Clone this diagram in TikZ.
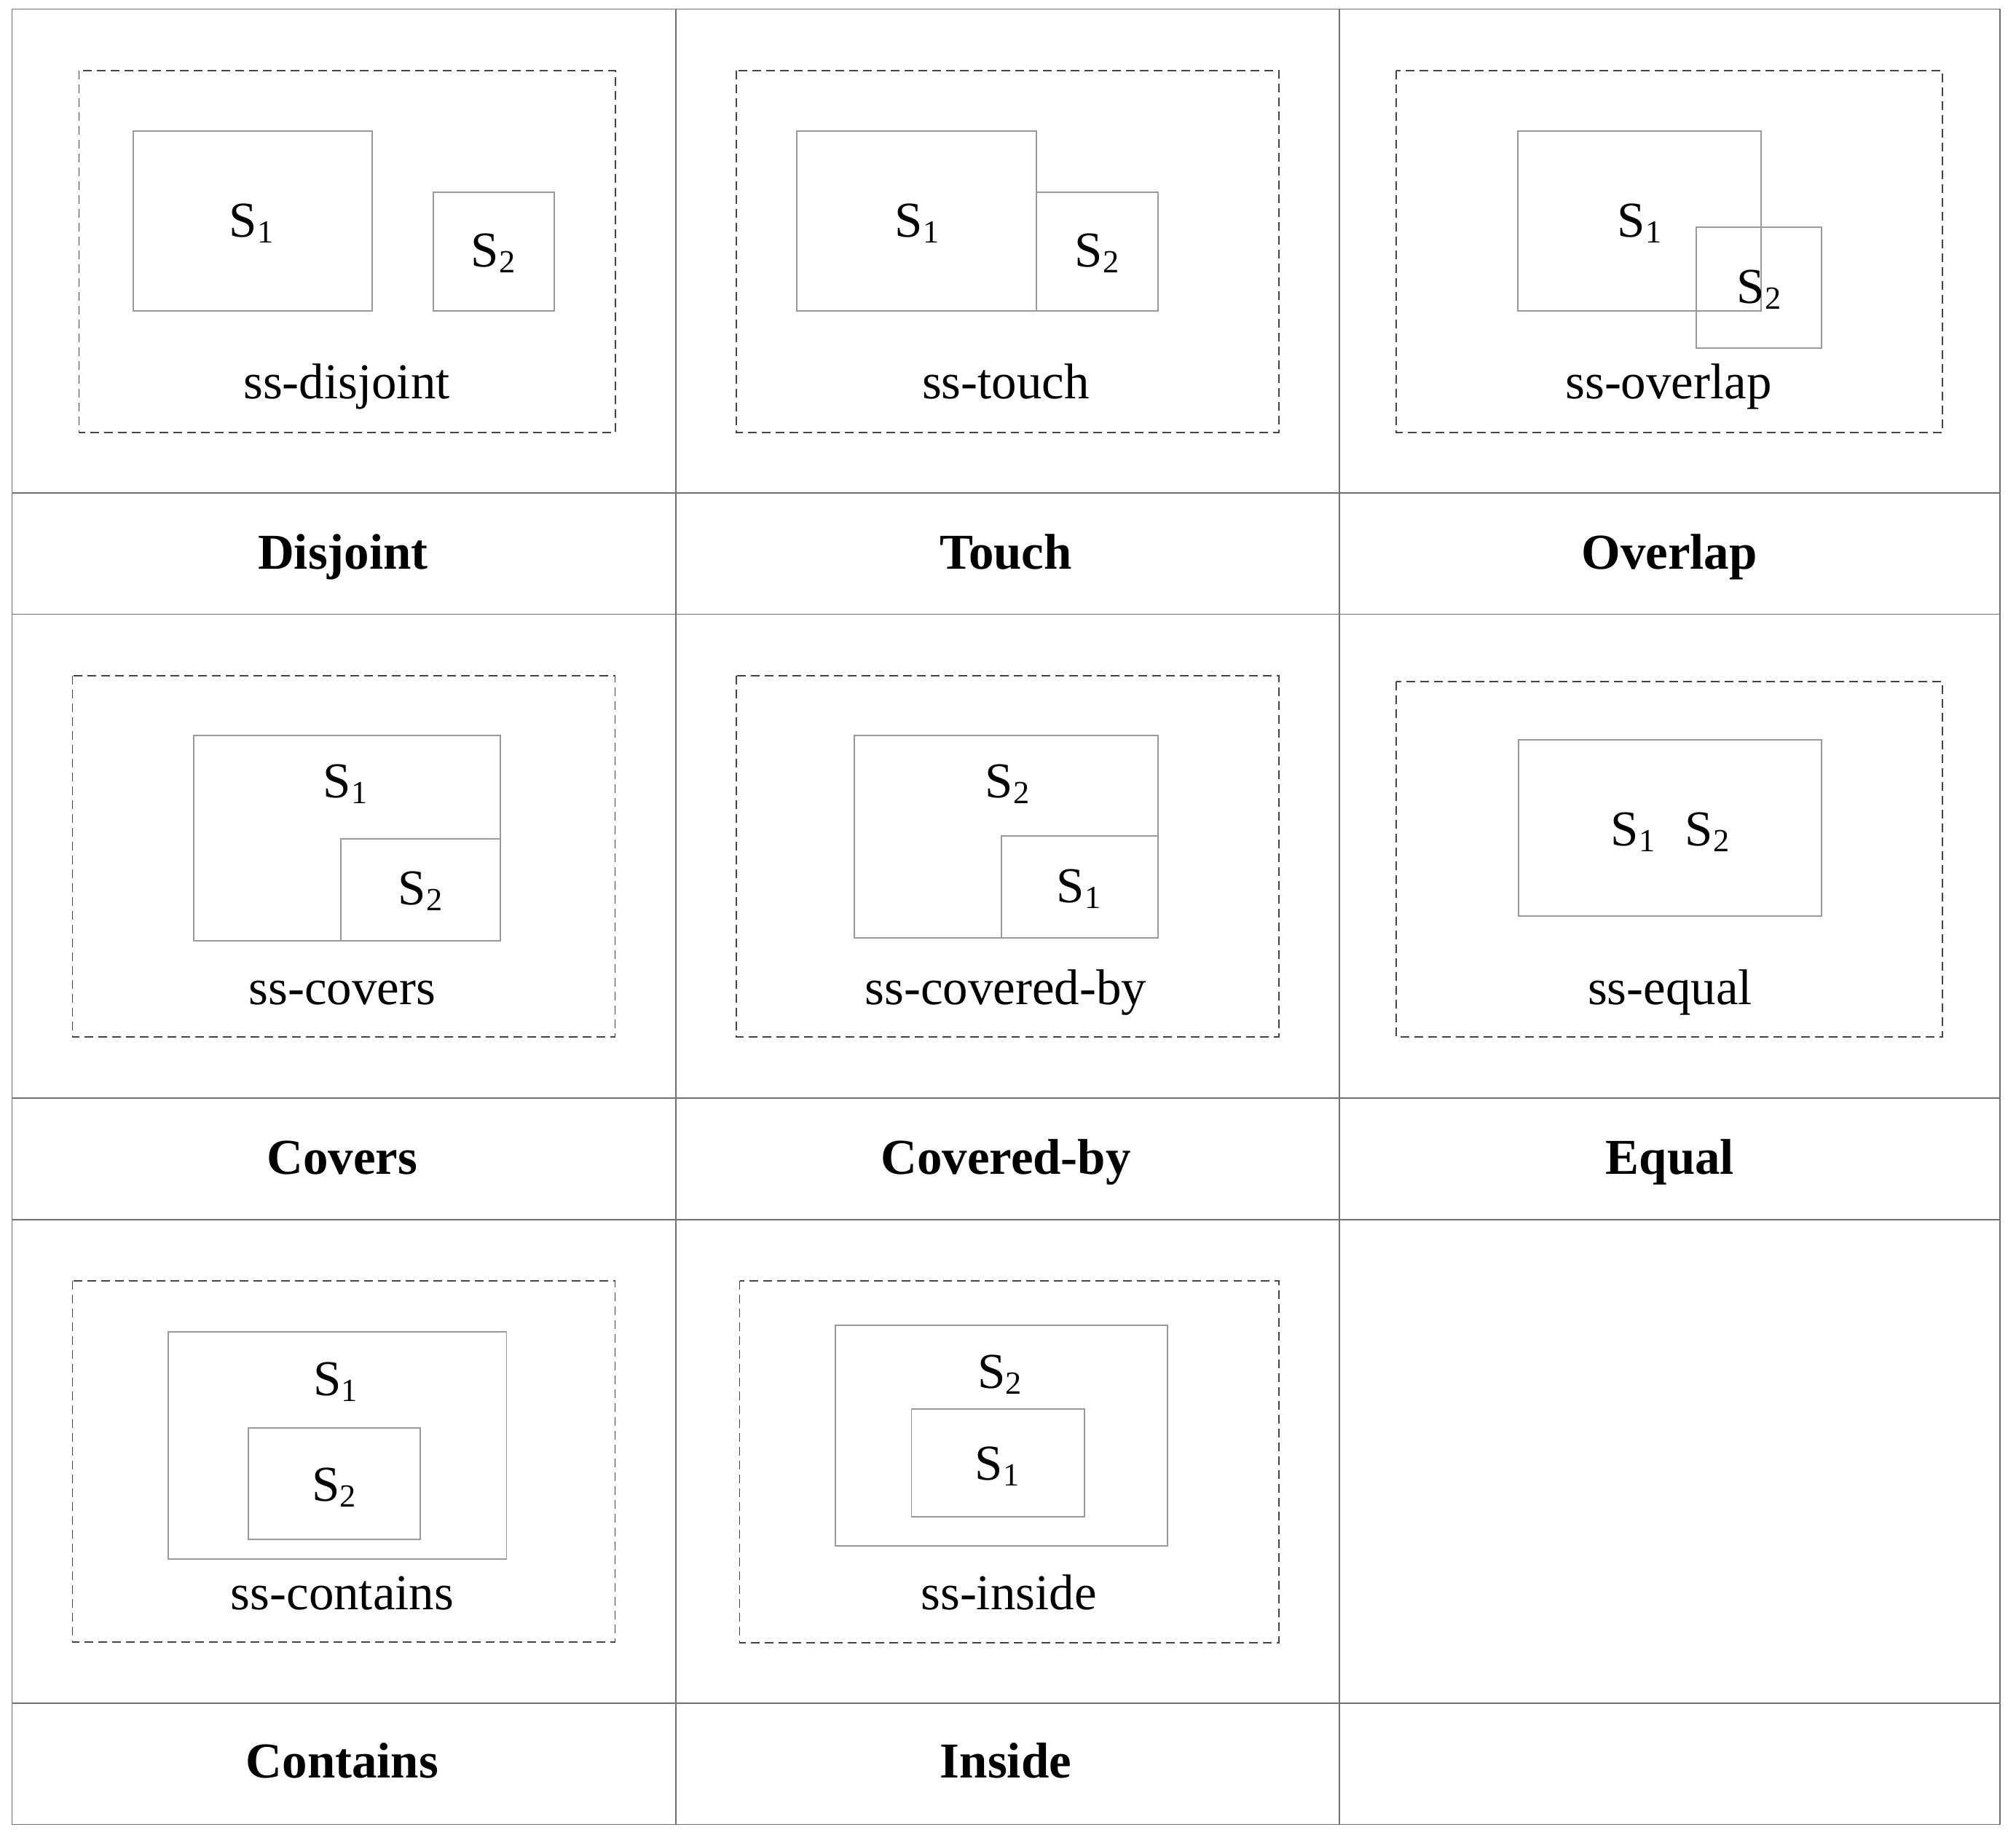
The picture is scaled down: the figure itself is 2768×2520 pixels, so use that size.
\documentclass[tikz,border=0pt]{standalone}
\usepackage{fontspec}
\setmainfont{Liberation Serif}
\newcommand\mysub[1]{\raisebox{-0.13em}{\fontsize{12.6pt}{14pt}\selectfont #1}}
\definecolor{gridgray}{HTML}{707070}
\definecolor{dashgray}{HTML}{444444}
\definecolor{boxgray}{HTML}{999999}
\begin{document}
\begin{tikzpicture}[x=0.01cm,y=-0.01cm,
  gridline/.style={draw=gridgray, line width=0.5pt},
  dashframe/.style={draw=dashgray, line width=0.45pt, dash pattern=on 3.4pt off 2pt},
  regionbox/.style={draw=boxgray, line width=0.45pt},
  lbltext/.style={anchor=base, inner sep=0pt, font=\fontsize{19.6pt}{23pt}\selectfont},
  headtext/.style={anchor=base, inner sep=0pt, font=\fontsize{19.6pt}{23pt}\selectfont\bfseries}]
\useasboundingbox (0,0) rectangle (2768,2520);

% table grid
\draw[gridline] (16.5,12.5) rectangle (2746,2505.5);
\foreach \x in {928,1839} \draw[gridline] (\x,12.5) -- (\x,2505.5);
\foreach \y in {677,843.5,1508,1675,2339} \draw[gridline] (16.5,\y) -- (2746,\y);

% ---- Disjoint
\draw[dashframe] (108.5,97) rectangle (845,594);
\draw[regionbox] (183,180) rectangle (511,427);
\draw[regionbox] (595,264) rectangle (761,427);
\node[lbltext] (d1) at (345,325) {S\mysub{1}};
\node[lbltext] (d2) at (677,366) {S\mysub{2}};
\node[lbltext] (dl) at (476,547) {ss-disjoint};
\node[headtext] (dh) at (471,781) {Disjoint};

% ---- Touch
\draw[dashframe] (1011,97) rectangle (1756,594);
\draw[regionbox] (1094,180) rectangle (1423,427);
\draw[regionbox] (1423,264) rectangle (1590,427);
\node[lbltext] (t1) at (1259,325) {S\mysub{1}};
\node[lbltext] (t2) at (1506,366) {S\mysub{2}};
\node[lbltext] (tl) at (1381,547) {ss-touch};
\node[headtext] (th) at (1381,781) {Touch};

% ---- Overlap
\draw[dashframe] (1917,97) rectangle (2667,594);
\draw[regionbox] (2084,180) rectangle (2418,427);
\draw[regionbox] (2329,312) rectangle (2501,478);
\node[lbltext] (o1) at (2251,325) {S\mysub{1}};
\node[lbltext] (o2) at (2415,416) {S\mysub{2}};
\node[lbltext] (ol) at (2291,547) {ss-overlap};
\node[headtext] (oh) at (2292,781) {Overlap};

% ---- Covers
\draw[dashframe] (99.4,928) rectangle (844.6,1424);
\draw[regionbox] (266,1010) rectangle (687,1292);
\draw[regionbox] (468,1152) rectangle (687,1292);
\node[lbltext] (c1) at (474,1095) {S\mysub{1}};
\node[lbltext] (c2) at (577,1242) {S\mysub{2}};
\node[lbltext] (cl) at (470,1379) {ss-covers};
\node[headtext] (ch) at (470,1612) {Covers};

% ---- Covered-by
\draw[dashframe] (1011,928) rectangle (1756,1424);
\draw[regionbox] (1173,1010) rectangle (1590,1288);
\draw[regionbox] (1375,1148) rectangle (1590,1288);
\node[lbltext] (b2) at (1383,1095) {S\mysub{2}};
\node[lbltext] (b1) at (1481,1239) {S\mysub{1}};
\node[lbltext] (bl) at (1381,1379) {ss-covered-by};
\node[headtext] (bh) at (1381,1612) {Covered-by};

% ---- Equal
\draw[dashframe] (1917,936) rectangle (2667,1424);
\draw[regionbox] (2085,1016) rectangle (2501,1258);
\node[lbltext] (e12) at (2293,1161) {S\mysub{1}\hspace{0.6em}S\mysub{2}};
\node[lbltext] (el) at (2293,1379) {ss-equal};
\node[headtext] (eh) at (2293,1612) {Equal};

% ---- Contains
\draw[dashframe] (99.4,1759) rectangle (844.6,2255);
\draw[regionbox] (231,1829) rectangle (695.6,2141);
\draw[regionbox] (341,1961) rectangle (577,2114);
\node[lbltext] (k1) at (460.6,1916) {S\mysub{1}};
\node[lbltext] (k2) at (458.6,2061) {S\mysub{2}};
\node[lbltext] (kl) at (470,2210) {ss-contains};
\node[headtext] (kh) at (470,2441) {Contains};

% ---- Inside
\draw[dashframe] (1015.5,1759) rectangle (1756,2256);
\draw[regionbox] (1147,1820) rectangle (1603,2123);
\draw[regionbox] (1251.5,1935) rectangle (1489,2083);
\node[lbltext] (i2) at (1372.6,1906) {S\mysub{2}};
\node[lbltext] (i1) at (1369,2032) {S\mysub{1}};
\node[lbltext] (il) at (1385,2210) {ss-inside};
\node[headtext] (ih) at (1381,2441) {Inside};
\end{tikzpicture}
\end{document}
